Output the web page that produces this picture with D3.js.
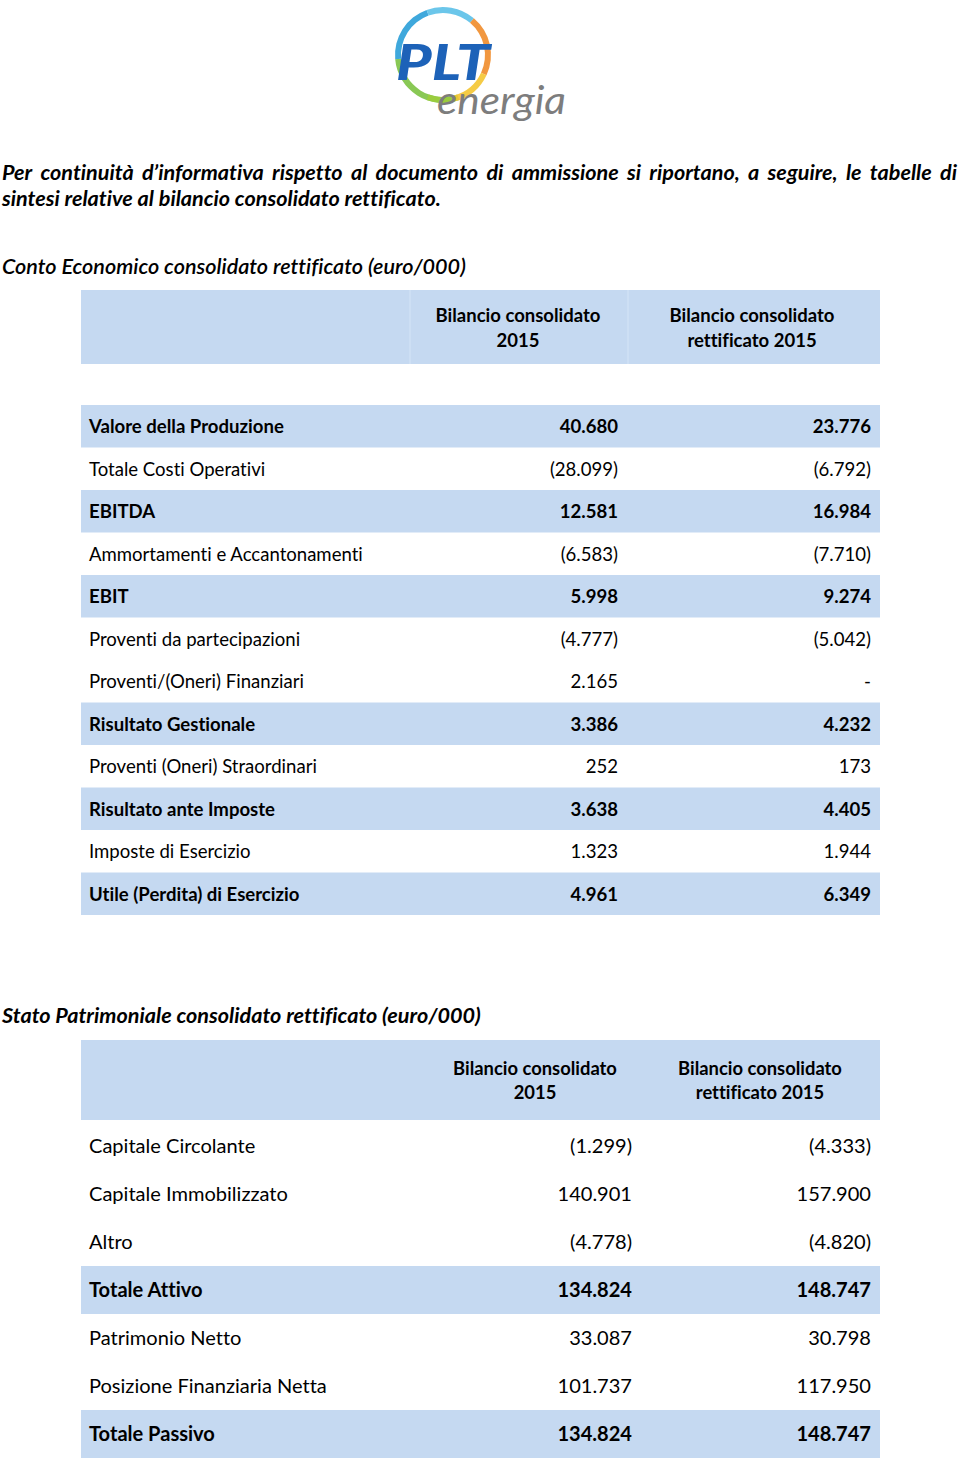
<!DOCTYPE html>
<html><head><meta charset="utf-8">
<script src="https://cdn.jsdelivr.net/npm/d3@7"></script>
<style>body{margin:0;background:#fff} svg{display:block} text{font-variant-ligatures:none;font-feature-settings:"liga" 0,"clig" 0}</style>
</head><body><svg id="c" width="960" height="1463"></svg>
<script>
// ---------------- DATA ----------------
const introLines = [
  "Per continuità d’informativa rispetto al documento di ammissione si riportano, a seguire, le tabelle di",
  "sintesi relative al bilancio consolidato rettificato."
];
const ceTitle = "Conto Economico consolidato rettificato (euro/000)";
const spTitle = "Stato Patrimoniale consolidato rettificato (euro/000)";
const colHeaders = [["Bilancio consolidato", "2015"], ["Bilancio consolidato", "rettificato 2015"]];

const ceLabels = ["Valore della Produzione", "Totale Costi Operativi", "EBITDA", "Ammortamenti e Accantonamenti",
  "EBIT", "Proventi da partecipazioni", "Proventi/(Oneri) Finanziari", "Risultato Gestionale",
  "Proventi (Oneri) Straordinari", "Risultato ante Imposte", "Imposte di Esercizio", "Utile (Perdita) di Esercizio"];
const ceBilancio = [40680, -28099, 12581, -6583, 5998, -4777, 2165, 3386, 252, 3638, 1323, 4961];
const ceRettificato = [23776, -6792, 16984, -7710, 9274, -5042, null, 4232, 173, 4405, 1944, 6349];
const ceTotals = [true, false, true, false, true, false, false, true, false, true, false, true];

const spLabels = ["Capitale Circolante", "Capitale Immobilizzato", "Altro", "Totale Attivo",
  "Patrimonio Netto", "Posizione Finanziaria Netta", "Totale Passivo"];
const spBilancio = [-1299, 140901, -4778, 134824, 33087, 101737, 134824];
const spRettificato = [-4333, 157900, -4820, 148747, 30798, 117950, 148747];
const spTotals = [false, false, false, true, false, false, true];

// ---------------- RENDER ----------------
const FONT = "Lato, 'Open Sans', 'Liberation Sans', sans-serif";
const BAND = "#c5d9f1";
const svg = d3.select("#c");
const loc = d3.formatLocale({decimal: ",", thousands: ".", grouping: [3], currency: ["€", ""]});
const f = loc.format(",d");
const fmt = v => v == null ? "-" : (v < 0 ? "(" + f(-v) + ")" : f(v));

function measure(text, weight, style, size) {
  const t = svg.append("text").attr("font-family", FONT).attr("font-weight", weight)
    .attr("font-style", style).attr("font-size", size).text(text);
  const w = t.node().getComputedTextLength();
  t.remove();
  return w;
}
function fit(text, weight, style, target) {
  return 100 * target / measure(text, weight, style, 100);
}

// ---- Logo ----
const logo = svg.append("g");
const ringC = [443, 55];
const arcs = [
  {a0: -200, a1: -95, c: "#7cc242"},
  {a0: -95, a1: -20, c: "#2a9fd8"},
  {a0: -20, a1: 40, c: "#5bc0e8"},
  {a0: 40, a1: 115, c: "#f08c2a"},
  {a0: 115, a1: 165, c: "#f4c531"},
  {a0: 165, a1: 200, c: "#9ccc3c"}
];
const arcGen = d3.arc().innerRadius(42).outerRadius(48);
logo.selectAll("path.ring").data(arcs).join("path")
  .attr("transform", `translate(${ringC[0]},${ringC[1]}) scale(1,1.0)`)
  .attr("d", d => arcGen({startAngle: d.a0 * Math.PI / 180, endAngle: d.a1 * Math.PI / 180}))
  .attr("fill", d => d.c).attr("opacity", 0.9);
logo.append("text").attr("x", 396).attr("y", 80)
  .attr("font-family", FONT).attr("font-weight", 900).attr("font-style", "italic")
  .attr("font-size", 50).attr("fill", "#1d62b8")
  .attr("textLength", 94).attr("lengthAdjust", "spacingAndGlyphs").text("PLT");
logo.append("text").attr("x", 437).attr("y", 114)
  .attr("font-family", FONT).attr("font-weight", 400).attr("font-style", "italic")
  .attr("font-size", 38).attr("fill", "#7d7d7d")
  .attr("textLength", 129).attr("lengthAdjust", "spacingAndGlyphs").text("energia");

// ---- Intro paragraph ----
const introSize = fit(introLines[1], 700, "italic", 439);
{
  const words = introLines[0].split(" ");
  const widths = words.map(w => measure(w, 700, "italic", introSize));
  const total = d3.sum(widths);
  const gap = (955 - total) / (words.length - 1);
  let x = 2;
  const pos = widths.map(w => { const p = x; x += w + gap; return p; });
  svg.append("g").selectAll("text").data(words).join("text")
    .attr("x", (d, i) => pos[i]).attr("y", 180)
    .attr("font-family", FONT).attr("font-weight", 700).attr("font-style", "italic")
    .attr("font-size", introSize).attr("fill", "#000").text(d => d);
  svg.append("text").attr("x", 2).attr("y", 206)
    .attr("font-family", FONT).attr("font-weight", 700).attr("font-style", "italic")
    .attr("font-size", introSize).attr("fill", "#000").text(introLines[1]);
}

// ---- Titles ----
svg.append("text").attr("x", 2).attr("y", 274)
  .attr("font-family", FONT).attr("font-weight", 600).attr("font-style", "italic")
  .attr("font-size", fit(ceTitle, 600, "italic", 464)).attr("fill", "#000").text(ceTitle);
svg.append("text").attr("x", 2).attr("y", 1023)
  .attr("font-family", FONT).attr("font-weight", 700).attr("font-style", "italic")
  .attr("font-size", fit(spTitle, 700, "italic", 479)).attr("fill", "#000").text(spTitle);

// ---- Tables ----
function drawTable(cfg) {
  const g = svg.append("g");
  const n = cfg.labels.length;
  g.append("rect").attr("x", cfg.x0).attr("y", cfg.hTop).attr("width", cfg.x1 - cfg.x0)
    .attr("height", cfg.hBottom - cfg.hTop).attr("fill", BAND);
  (cfg.dividers || []).forEach(x => g.append("line").attr("x1", x).attr("x2", x)
    .attr("y1", cfg.hTop).attr("y2", cfg.hBottom).attr("stroke", "#cfe0f4").attr("stroke-width", 1.5));
  const hSize = fit(colHeaders[0][0], 700, "normal", cfg.hdrWidth);
  colHeaders.forEach((lines, c) => {
    lines.forEach((ln, k) => {
      g.append("text").attr("x", cfg.hdrX[c]).attr("y", cfg.hBase[k])
        .attr("text-anchor", "middle").attr("font-family", FONT).attr("font-weight", 700)
        .attr("font-size", hSize).attr("fill", "#000").text(ln);
    });
  });
  const y = d3.scaleBand().domain(d3.range(n)).range([cfg.rTop, cfg.rTop + n * cfg.rowH]).padding(0);
  const rows = g.selectAll("g.row").data(d3.range(n)).join("g")
    .attr("transform", i => `translate(0,${y(i)})`);
  rows.filter(i => cfg.totals[i]).append("rect")
    .attr("x", cfg.x0).attr("width", cfg.x1 - cfg.x0).attr("height", y.bandwidth()).attr("fill", BAND);
  const size = fit(cfg.refLabel, 400, "normal", cfg.refWidth);
  const base = y.bandwidth() / 2 + size * 0.37;
  rows.append("text").attr("x", cfg.labelX).attr("y", base)
    .attr("font-family", FONT).attr("font-size", size)
    .attr("font-weight", i => cfg.totals[i] ? 700 : 400).attr("fill", "#000")
    .text(i => cfg.labels[i]);
  [cfg.v1, cfg.v2].forEach((vals, c) => {
    rows.append("text").attr("x", cfg.valX[c]).attr("y", base).attr("text-anchor", "end")
      .attr("font-family", FONT).attr("font-size", size)
      .attr("font-weight", i => cfg.totals[i] ? 700 : 400).attr("fill", "#000")
      .text(i => fmt(vals[i]));
  });
}

drawTable({
  labels: ceLabels, v1: ceBilancio, v2: ceRettificato, totals: ceTotals,
  x0: 81, x1: 880, hTop: 290, hBottom: 364, hBase: [322, 347], hdrX: [518, 752], hdrWidth: 165,
  dividers: [410, 628],
  rTop: 405, rowH: 42.5, labelX: 89, valX: [618, 871],
  refLabel: "Ammortamenti e Accantonamenti", refWidth: 274
});
drawTable({
  labels: spLabels, v1: spBilancio, v2: spRettificato, totals: spTotals,
  x0: 81, x1: 880, hTop: 1040, hBottom: 1120, hBase: [1075, 1099], hdrX: [535, 760], hdrWidth: 164,
  dividers: [],
  rTop: 1122, rowH: 48, labelX: 89, valX: [632, 871],
  refLabel: "Posizione Finanziaria Netta", refWidth: 238
});
</script></body></html>
